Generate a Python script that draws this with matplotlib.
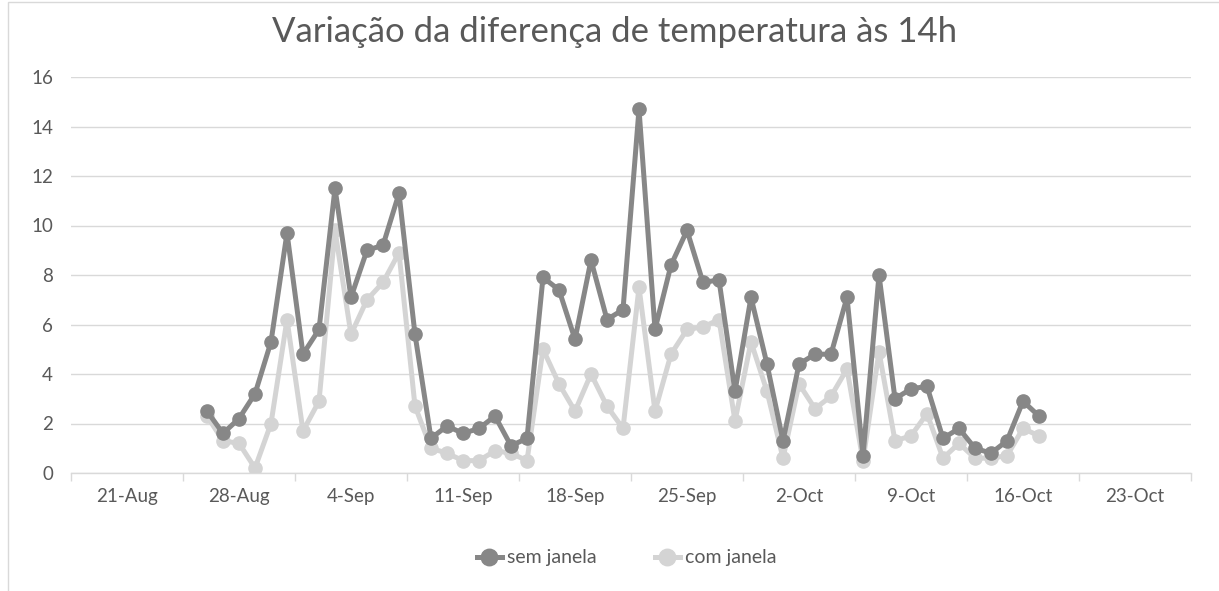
import numpy as np
import pandas as pd
import matplotlib
matplotlib.use('Agg')
import matplotlib.pyplot as plt
import matplotlib.dates as mdates
from matplotlib.patches import Rectangle

# daily values, 29-Aug to 20-Oct
start = '2017-08-29'
sem_janela = [2.5, 1.6, 2.2, 3.2, 5.3, 9.7, 4.8, 5.8, 11.5, 7.1, 9.0, 9.2, 11.3, 5.6,
              1.4, 1.9, 1.6, 1.8, 2.3, 1.1, 1.4, 7.9, 7.4, 5.4, 8.6, 6.2, 6.6, 14.7,
              5.8, 8.4, 9.8, 7.7, 7.8, 3.3, 7.1, 4.4, 1.3, 4.4, 4.8, 4.8, 7.1, 0.7,
              8.0, 3.0, 3.4, 3.5, 1.4, 1.8, 1.0, 0.8, 1.3, 2.9, 2.3]
com_janela = [2.3, 1.3, 1.2, 0.2, 2.0, 6.2, 1.7, 2.9, 9.8, 5.6, 7.0, 7.7, 8.9, 2.7,
              1.0, 0.8, 0.5, 0.5, 0.9, 0.8, 0.5, 5.0, 3.6, 2.5, 4.0, 2.7, 1.8, 7.5,
              2.5, 4.8, 5.8, 5.9, 6.2, 2.1, 5.3, 3.3, 0.6, 3.6, 2.6, 3.1, 4.2, 0.5,
              4.9, 1.3, 1.5, 2.4, 0.6, 1.2, 0.6, 0.6, 0.7, 1.8, 1.5]
week_labels = ['21-Aug', '28-Aug', '4-Sep', '11-Sep', '18-Sep', '25-Sep',
               '2-Oct', '9-Oct', '16-Oct', '23-Oct']
first_week = '2017-08-21'

dates = pd.date_range(start, periods=len(sem_janela), freq='D')
weeks = pd.date_range(first_week, periods=len(week_labels), freq='7D')

dark = '#878787'
light = '#d4d4d4'
txt = '#595959'
grid = '#d9d9d9'

plt.rcParams['font.family'] = ['Lato', 'DejaVu Sans']

fig = plt.figure(figsize=(12.19, 5.91), dpi=100)
ax = fig.add_axes([71/1219, 1-473/591, 1120/1219, 396/591])

x = mdates.date2num(dates)
wx = mdates.date2num(weeks)

ax.plot(x, sem_janela, color=dark, lw=3.6, marker='o', ms=9.5, label='sem janela', zorder=3)
ax.plot(x, com_janela, color=light, lw=3.6, marker='o', ms=9.5, label='com janela', zorder=2)

left = wx[0] - 0.5
ax.set_xlim(left, left + 7*len(week_labels))
ax.set_ylim(0, 16)
ax.set_yticks(np.arange(0, 17, 2))
ax.set_xticks(wx + 3)
ax.set_xticklabels(week_labels)
ax.set_xticks(np.append(wx - 0.5, left + 7*len(week_labels)), minor=True)

ax.tick_params(axis='x', which='major', length=0, pad=11, labelsize=13.5, labelcolor=txt)
ax.tick_params(axis='x', which='minor', length=6, color=grid, width=1)
ax.tick_params(axis='y', length=0, pad=13, labelsize=13.5, labelcolor=txt)

ax.grid(axis='y', color=grid, lw=1)
ax.set_axisbelow(True)
for s in ['top', 'right', 'left']:
    ax.spines[s].set_visible(False)
ax.spines['bottom'].set_color(grid)
ax.spines['bottom'].set_linewidth(1)

fig.text(0.504, 1-32/591, 'Variação da diferença de temperatura às 14h', ha='center', va='center',
         fontsize=25, color=txt)

fig.legend(loc='center', bbox_to_anchor=(0.514, 1-558/591), ncol=2, frameon=False,
           fontsize=14, labelcolor=txt, handlelength=1.3, handletextpad=0.25,
           columnspacing=3.0, markerscale=1.25)

fig.add_artist(Rectangle((8/1219, -0.1), 1.2, 1.1 - 2/591, transform=fig.transFigure,
                         fill=False, ec='#d9d9d9', lw=1))

fig.savefig('out.png', dpi=100)
